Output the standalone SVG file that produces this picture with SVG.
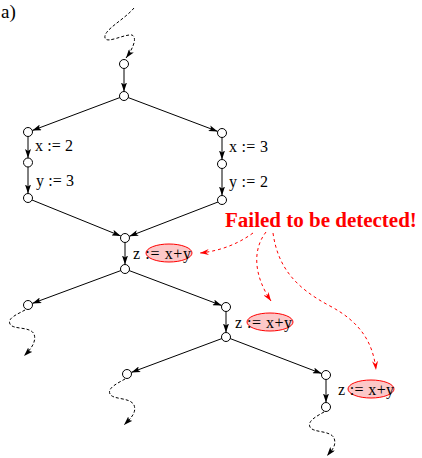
<svg xmlns="http://www.w3.org/2000/svg" width="422" height="458" viewBox="0 0 422 458">
<style>
.n{fill:#fff;stroke:#000;stroke-width:1}
.e{fill:none;stroke:#000;stroke-width:1}
.d{fill:none;stroke:#000;stroke-width:1;stroke-dasharray:3,2}
.r{fill:none;stroke:#f00;stroke-width:1;stroke-dasharray:3,3}
.t{font-family:"Liberation Serif","Times New Roman",serif;font-size:16px;fill:#000}
.h{fill:#fcc8c8;stroke:#f00;stroke-width:1}
.f{font-family:"Liberation Serif","Times New Roman",serif;font-size:21px;font-weight:bold;fill:#f00}
</style>
<defs>
<marker id="a" markerUnits="userSpaceOnUse" viewBox="0 0 9 6" refX="9" refY="3" markerWidth="9" markerHeight="6" orient="auto">
<path d="M0,0 L9,3 L0,6 L2,3 z" fill="#000"/>
</marker>
<marker id="ar" markerUnits="userSpaceOnUse" viewBox="0 0 9 6" refX="9" refY="3" markerWidth="9" markerHeight="6" orient="auto">
<path d="M0,0 L9,3 L0,6 L3,3 z" fill="#f00"/>
</marker>
</defs>
<text x="1" y="18" style="font-family:'Liberation Serif',serif;font-size:19px">a)</text>
<g id="connectors">
<path class="d" d="M134,8 C124,20 103,30 105,38 C107,44 124,34 132,35 C138,38 132,50 126,58" marker-end="url(#a)"/>
<path class="e" d="M124,68.5 L124,91.5" marker-end="url(#a)"/>
<path class="e" d="M120,97.5 L32.3,130.5" marker-end="url(#a)"/>
<path class="e" d="M128,97.5 L217.7,131.4" marker-end="url(#a)"/>
<path class="e" d="M28,136.5 L28,158" marker-end="url(#a)"/>
<path class="e" d="M28,167 L28,193.5" marker-end="url(#a)"/>
<path class="e" d="M222,137.5 L222,159.5" marker-end="url(#a)"/>
<path class="e" d="M222,168.5 L222,195.5" marker-end="url(#a)"/>
<path class="e" d="M32,200 L120.8,236" marker-end="url(#a)"/>
<path class="e" d="M218,202 L129.3,236.3" marker-end="url(#a)"/>
<path class="e" d="M125,242.5 L125,264.5" marker-end="url(#a)"/>
<path class="e" d="M121,270.5 L32.3,303.4" marker-end="url(#a)"/>
<path class="e" d="M129,270.5 L221.7,305.5" marker-end="url(#a)"/>
<path class="e" d="M226,311.5 L226,332.5" marker-end="url(#a)"/>
<path class="e" d="M222,338.5 L131.3,372.4" marker-end="url(#a)"/>
<path class="e" d="M230,338.5 L321.7,373.6" marker-end="url(#a)"/>
<path class="e" d="M326,379.5 L326,402.5" marker-end="url(#a)"/>
<path class="d" d="M25,310 C18,314 7,318 10,324 C13,330 30,326 34,334 C37,342 30,350 24,356" marker-end="url(#a)"/>
<path class="d" d="M125,379 C118,383 107,388 110,394 C113,400 130,397 134,405 C137,413 130,419 124,425" marker-end="url(#a)"/>
<path class="d" d="M324,412 C317,416 307,421 310,427 C313,433 330,430 334,438 C337,446 331,451 327,456" marker-end="url(#a)"/>
<path class="r" d="M253,233 C238,244 220,251 200,253" marker-end="url(#ar)"/>
<path class="r" d="M266,232 C252,250 254,276 271,301" marker-end="url(#ar)"/>
<path class="r" d="M273,233 C278,268 296,288 330,306 C360,322 373,342 376,370" marker-end="url(#ar)"/>
</g>
<g id="n1"><circle class="n" cx="124" cy="64" r="4.5"/></g>
<g id="n2"><circle class="n" cx="124" cy="96" r="4.5"/></g>
<g id="n3"><circle class="n" cx="28" cy="132" r="4.5"/><text class="t" x="35" y="150.5" textLength="38" lengthAdjust="spacing">x := 2</text></g>
<g id="n4"><circle class="n" cx="28" cy="162.5" r="4.5"/><text class="t" x="36" y="185.5" textLength="38" lengthAdjust="spacing">y := 3</text></g>
<g id="n5"><circle class="n" cx="28" cy="198" r="4.5"/></g>
<g id="n6"><circle class="n" cx="222" cy="133" r="4.5"/><text class="t" x="229" y="152" textLength="39" lengthAdjust="spacing">x := 3</text></g>
<g id="n7"><circle class="n" cx="222" cy="164" r="4.5"/><text class="t" x="229" y="186.5" textLength="39" lengthAdjust="spacing">y := 2</text></g>
<g id="n8"><circle class="n" cx="222" cy="200" r="4.5"/></g>
<g id="n9"><circle class="n" cx="125" cy="238" r="4.5"/><ellipse class="h" cx="169" cy="253" rx="23" ry="9"/><text class="t" x="133" y="258.5" textLength="58" lengthAdjust="spacing">z := x+y</text></g>
<g id="n10"><circle class="n" cx="125" cy="269" r="4.5"/></g>
<g id="n11"><circle class="n" cx="28" cy="305" r="4.5"/></g>
<g id="n12"><circle class="n" cx="226" cy="307" r="4.5"/><ellipse class="h" cx="270" cy="322" rx="23" ry="9"/><text class="t" x="235" y="327.5" textLength="57" lengthAdjust="spacing">z := x+y</text></g>
<g id="n13"><circle class="n" cx="226" cy="337" r="4.5"/></g>
<g id="n14"><circle class="n" cx="127" cy="374" r="4.5"/></g>
<g id="n15"><circle class="n" cx="326" cy="375" r="4.5"/><ellipse class="h" cx="371" cy="389" rx="23" ry="9"/><text class="t" x="338" y="394.5" textLength="56" lengthAdjust="spacing">z := x+y</text></g>
<g id="n16"><circle class="n" cx="326" cy="407" r="4.5"/></g>
<g id="note"><text class="f" x="225" y="227">Failed to be detected!</text></g>
</svg>
